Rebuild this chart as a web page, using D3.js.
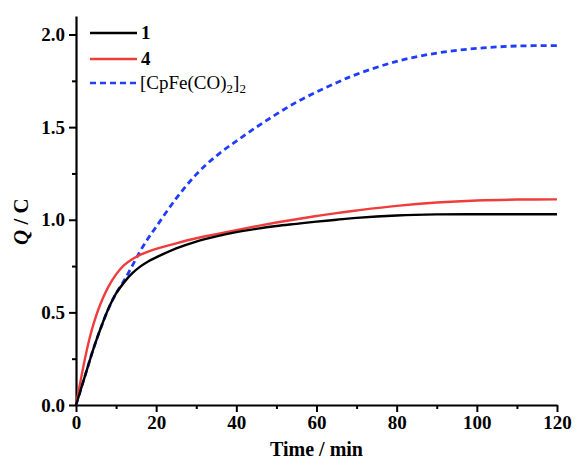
<!DOCTYPE html>
<html>
<head>
<meta charset="utf-8">
<script src="https://cdn.jsdelivr.net/npm/d3@7"></script>
<style>
  body { margin: 0; background: #fff; }
  svg { display: block; }
  svg text { font-family: "Liberation Serif", "Times New Roman", serif; fill: #000; }
</style>
</head>
<body>
<div id="chart"></div>
<script>
// Charge passed vs. time
const times = [0, 1, 2, 3, 4, 5, 6, 8, 10, 12, 14, 16, 18, 20, 25, 30, 35, 40, 45, 50, 55, 60, 65, 70, 80, 90, 100, 110, 120];
const q1 = [0, 0.07, 0.14, 0.21, 0.28, 0.345, 0.405, 0.515, 0.602, 0.662, 0.71, 0.747, 0.775, 0.797, 0.845, 0.882, 0.91, 0.933, 0.951, 0.966, 0.978, 0.99, 1.0, 1.01, 1.023, 1.029, 1.03, 1.03, 1.03];
const q4 = [0, 0.115, 0.225, 0.325, 0.41, 0.48, 0.54, 0.635, 0.705, 0.755, 0.787, 0.81, 0.828, 0.843, 0.873, 0.9, 0.922, 0.944, 0.965, 0.985, 1.003, 1.02, 1.036, 1.05, 1.075, 1.093, 1.104, 1.109, 1.11];
const qFe = [0, 0.07, 0.14, 0.21, 0.28, 0.345, 0.405, 0.515, 0.602, 0.672, 0.75, 0.83, 0.9, 0.962, 1.115, 1.245, 1.345, 1.425, 1.50, 1.57, 1.635, 1.69, 1.74, 1.785, 1.855, 1.90, 1.925, 1.938, 1.94];
const xTicks = [0, 20, 40, 60, 80, 100, 120];
const yTicks = [0, 0.5, 1.0, 1.5, 2.0];

const series = [
  { name: "1", values: q1, color: "#000000", dash: null },
  { name: "4", values: q4, color: "#f03c3c", dash: null },
  { name: "fe", values: qFe, color: "#1f3cff", dash: "6,4" },
];

const width = 576, height = 461;
const margin = { top: 16, right: 19, bottom: 56, left: 76 };
const innerW = width - margin.left - margin.right;
const innerH = height - margin.top - margin.bottom;

const svg = d3.select("#chart").append("svg").attr("width", width).attr("height", height);
const plot = svg.append("g").attr("transform", `translate(${margin.left},${margin.top})`);

const x = d3.scaleLinear().domain([0, 120]).range([0, innerW]);
const y = d3.scaleLinear().domain([0, 2.1]).range([innerH, 0]);

// minor ticks first, then major axes on top
plot.append("g")
  .attr("transform", `translate(0,${innerH})`)
  .call(d3.axisBottom(x).tickValues(d3.range(10, 120, 20)).tickSize(4).tickFormat(""))
  .call(g => g.select(".domain").remove())
  .call(g => g.selectAll("line").attr("stroke-width", 2));
plot.append("g")
  .call(d3.axisLeft(y).tickValues([0.25, 0.75, 1.25, 1.75]).tickSize(4).tickFormat(""))
  .call(g => g.select(".domain").remove())
  .call(g => g.selectAll("line").attr("stroke-width", 2));

const xAxis = plot.append("g")
  .attr("transform", `translate(0,${innerH})`)
  .call(d3.axisBottom(x).tickValues(xTicks).tickSize(7).tickPadding(4).tickSizeOuter(0));
const yAxis = plot.append("g")
  .call(d3.axisLeft(y).tickValues(yTicks).tickSize(7).tickPadding(4).tickSizeOuter(0)
    .tickFormat(d3.format(".1f")));
[xAxis, yAxis].forEach(a => {
  a.attr("font-family", null).attr("font-size", null);
  a.select(".domain").attr("stroke-width", 2.2);
  a.selectAll(".tick line").attr("stroke-width", 2);
  a.selectAll(".tick text")
    .attr("font-family", "Liberation Serif, serif")
    .attr("font-size", 19)
    .attr("font-weight", "bold");
});

const line = d3.line()
  .x((d, i) => x(times[i]))
  .y(d => y(d))
  .curve(d3.curveCatmullRom.alpha(0.5));

// draw blue underneath so the black and red sit on top at the start
[series[2], series[1], series[0]].forEach(s => {
  plot.append("path")
    .datum(s.values)
    .attr("fill", "none")
    .attr("stroke", s.color)
    .attr("stroke-width", s.dash ? 2.8 : 2.4)
    .attr("stroke-dasharray", s.dash)
    .attr("d", line);
});

// axis titles
svg.append("text")
  .attr("x", margin.left + innerW / 2)
  .attr("y", 456)
  .attr("text-anchor", "middle")
  .attr("font-size", 20)
  .attr("font-weight", "bold")
  .text("Time / min");

const yTitle = svg.append("text")
  .attr("transform", `translate(28,${margin.top + y(0.99)}) rotate(-90)`)
  .attr("text-anchor", "middle")
  .attr("font-size", 21)
  .attr("font-weight", "bold");
yTitle.append("tspan").attr("font-style", "italic").text("Q");
yTitle.append("tspan").text(" / C");

// legend
const legend = svg.append("g").attr("transform", "translate(90,0)");
const legendY = [33, 59, 83];
series.forEach((s, i) => {
  legend.append("line")
    .attr("x1", 0).attr("x2", 47)
    .attr("y1", legendY[i]).attr("y2", legendY[i])
    .attr("stroke", s.color)
    .attr("stroke-width", 2.4)
    .attr("stroke-dasharray", s.dash);
});
legend.append("text").attr("x", 51).attr("y", legendY[0] + 6)
  .attr("font-size", 19).attr("font-weight", "bold").text("1");
legend.append("text").attr("x", 51).attr("y", legendY[1] + 6)
  .attr("font-size", 19).attr("font-weight", "bold").text("4");
const feText = legend.append("text").attr("x", 50).attr("y", legendY[2] + 6).attr("font-size", 19);
feText.append("tspan").text("[CpFe(CO)");
feText.append("tspan").attr("font-size", 13).attr("dy", 4).text("2");
feText.append("tspan").attr("dy", -4).text("]");
feText.append("tspan").attr("font-size", 13).attr("dy", 4).text("2");
</script>
</body>
</html>
